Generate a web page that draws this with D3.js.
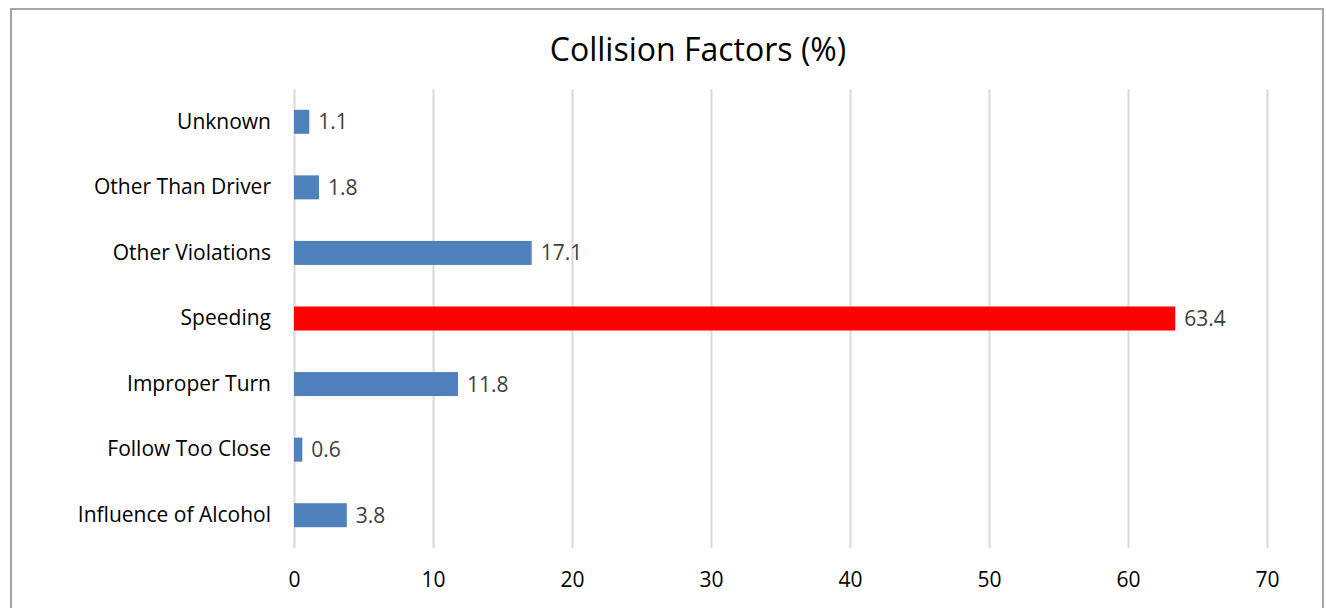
<!DOCTYPE html>
<html>
<head>
<meta charset="utf-8">
<script src="https://cdn.jsdelivr.net/npm/d3@7"></script>
<style>
  html, body { margin: 0; padding: 0; background: #fff; }
  svg { display: block; font-family: "Open Sans", sans-serif; }
</style>
</head>
<body>
<svg id="chart" width="1326" height="608"></svg>
<script>
// Collision factors, listed top to bottom
const categories = ["Unknown", "Other Than Driver", "Other Violations", "Speeding",
                    "Improper Turn", "Follow Too Close", "Influence of Alcohol"];
const values = [1.1, 1.8, 17.1, 63.4, 11.8, 0.6, 3.8];
const highlighted = "Speeding";
const xTicks = [0, 10, 20, 30, 40, 50, 60, 70];
const title = "Collision Factors (%)";

const data = categories.map((c, i) => ({ category: c, value: values[i] }));

const svg = d3.select("#chart");

// Chart frame
svg.append("rect")
  .attr("x", 11).attr("y", 9)
  .attr("width", 1312).attr("height", 620)
  .attr("fill", "#fff")
  .attr("stroke", "#a6a6a6")
  .attr("stroke-width", 2);

const plot = { left: 294, right: 1267, top: 89, bottom: 548 };

const x = d3.scaleLinear().domain([0, 70]).range([plot.left, plot.right]);
const y = d3.scaleBand().domain(categories)
  .range([plot.top, plot.bottom])
  .paddingInner(0.634).paddingOuter(0.317);

// Vertical gridlines
const grid = svg.append("g")
  .attr("transform", `translate(0,${plot.bottom})`)
  .call(d3.axisBottom(x).tickValues(xTicks).tickSize(-(plot.bottom - plot.top)).tickFormat(""));
grid.select(".domain").remove();
grid.selectAll(".tick line").attr("stroke", "#d9d9d9").attr("stroke-width", 2);

// Horizontal axis labels
const xAxis = svg.append("g")
  .attr("transform", `translate(0,${plot.bottom})`)
  .call(d3.axisBottom(x).tickValues(xTicks).tickSize(0).tickPadding(24));
xAxis.select(".domain").remove();
xAxis.selectAll("text")
  .attr("font-family", "Open Sans, sans-serif")
  .attr("font-size", 21)
  .attr("fill", "#000");

// Category labels
const yAxis = svg.append("g")
  .attr("transform", `translate(${plot.left},0)`)
  .call(d3.axisLeft(y).tickSize(0).tickPadding(23));
yAxis.select(".domain").remove();
yAxis.selectAll("text")
  .attr("font-family", "Open Sans, sans-serif")
  .attr("font-size", 21)
  .attr("fill", "#000");

// Bars
svg.append("g").selectAll("rect")
  .data(data)
  .join("rect")
  .attr("x", x(0))
  .attr("y", d => y(d.category))
  .attr("width", d => x(d.value) - x(0))
  .attr("height", y.bandwidth())
  .attr("fill", d => d.category === highlighted ? "#ff0000" : "#4f81bd");

// Value labels
svg.append("g").selectAll("text")
  .data(data)
  .join("text")
  .attr("x", d => x(d.value) + 9)
  .attr("y", d => y(d.category) + y.bandwidth() / 2)
  .attr("dy", "0.36em")
  .attr("font-size", 21)
  .attr("fill", "#404040")
  .text(d => d.value.toFixed(1));

// Title
svg.append("text")
  .attr("x", 698).attr("y", 61)
  .attr("text-anchor", "middle")
  .attr("font-size", 32)
  .attr("fill", "#000")
  .text(title);
</script>
</body>
</html>
